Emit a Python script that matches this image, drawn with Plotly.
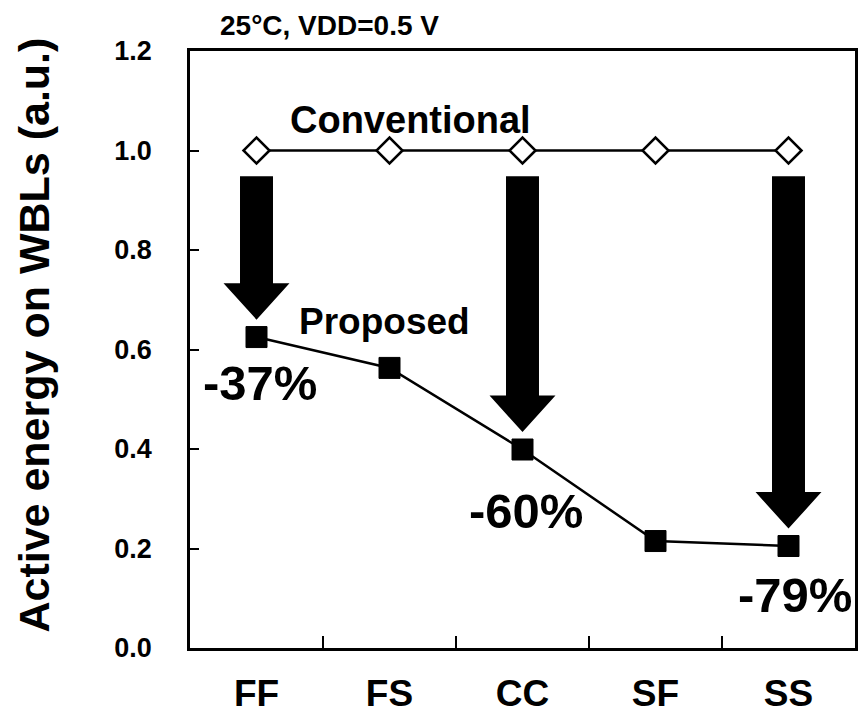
import plotly.graph_objects as go

# ---- data ----
categories = ["FF", "FS", "CC", "SF", "SS"]
conventional = [1.0, 1.0, 1.0, 1.0, 1.0]
proposed = [0.625, 0.563, 0.399, 0.215, 0.205]
arrow_idx = [0, 2, 4]
reduction_labels = ["-37%", "-60%", "-79%"]
y_ticks = [0.0, 0.2, 0.4, 0.6, 0.8, 1.0, 1.2]
condition_text = "25°C, VDD=0.5 V"

FONT = "Arial, Liberation Sans, sans-serif"
x_idx = list(range(len(categories)))

fig = go.Figure()

# ---- thick arrows (conventional -> proposed) ----
shaft_hw = 0.124
head_hw = 0.248
head_h = 0.0734
y_top = 0.948
tip_gap = 0.035
for i in arrow_idx:
    tip = proposed[i] + tip_gap
    hb = tip + head_h
    xs = [i - shaft_hw, i + shaft_hw, i + shaft_hw, i + head_hw, i, i - head_hw, i - shaft_hw, i - shaft_hw]
    ys = [y_top, y_top, hb, hb, tip, hb, hb, y_top]
    fig.add_trace(go.Scatter(x=xs, y=ys, mode="lines", fill="toself",
                             fillcolor="black", line=dict(width=0, color="black"),
                             hoverinfo="skip", showlegend=False))

# ---- series ----
fig.add_trace(go.Scatter(x=x_idx, y=conventional, mode="lines+markers",
                         line=dict(color="black", width=2.5),
                         marker=dict(symbol="diamond", size=20, color="white",
                                     line=dict(color="black", width=2.5)),
                         showlegend=False, name="Conventional"))
fig.add_trace(go.Scatter(x=x_idx, y=proposed, mode="lines+markers",
                         line=dict(color="black", width=2.5),
                         marker=dict(symbol="square", size=21, color="black",
                                     line=dict(color="black", width=1)),
                         showlegend=False, name="Proposed"))

# invisible trace to anchor boundary-tick axis
fig.add_trace(go.Scatter(x=[-0.5, 4.5], y=[0, 0], xaxis="x2", mode="markers",
                         marker=dict(opacity=0), hoverinfo="skip", showlegend=False))

# ---- annotations ----
ann = []
ann_pos = [(0.03, 0.532), (2.03, 0.276), (4.05, 0.106)]
for (ax_, ay_), txt in zip(ann_pos, reduction_labels):
    ann.append(dict(x=ax_, y=ay_, xref="x", yref="y", text=txt, showarrow=False,
                    font=dict(family=FONT, size=49, color="black", weight="bold"),
                    xanchor="center", yanchor="middle"))
ann.append(dict(x=1.16, y=1.062, xref="x", yref="y", text="Conventional", showarrow=False,
                font=dict(family=FONT, size=38, color="black", weight="bold"),
                xanchor="center", yanchor="middle"))
ann.append(dict(x=0.96, y=0.656, xref="x", yref="y", text="Proposed", showarrow=False,
                font=dict(family=FONT, size=37, color="black", weight="bold"),
                xanchor="center", yanchor="middle"))
ann.append(dict(x=0.21, y=1.042, xref="paper", yref="paper", text=condition_text, showarrow=False,
                font=dict(family=FONT, size=28, color="black", weight="bold"),
                xanchor="center", yanchor="middle"))
ann.append(dict(x=-0.2346, y=0.525, xref="paper", yref="paper",
                text="Active energy on WBLs (a.u.)", showarrow=False, textangle=-90,
                font=dict(family=FONT, size=43, color="black", weight="bold"),
                xanchor="center", yanchor="middle"))

fig.update_layout(
    width=859, height=705,
    margin=dict(l=182, r=12, t=43, b=64.5, autoexpand=False),
    paper_bgcolor="white", plot_bgcolor="white",
    annotations=ann,
    xaxis=dict(range=[-0.5, 4.5], tickvals=x_idx, ticktext=categories, ticks="",
               showgrid=False, zeroline=False, showline=True, linecolor="black",
               linewidth=2.5, mirror=True, ticklabelstandoff=11, automargin=False,
               tickfont=dict(family=FONT, size=37, color="black", weight="bold")),
    xaxis2=dict(range=[-0.5, 4.5], overlaying="x", anchor="y", side="bottom",
                tickvals=[0.5, 1.5, 2.5, 3.5], ticks="inside", ticklen=12,
                tickwidth=2, tickcolor="black", showticklabels=False, automargin=False,
                showgrid=False, zeroline=False, showline=False),
    yaxis=dict(range=[0, 1.2], tickvals=y_ticks, tickformat=".1f", ticks="inside",
               ticklen=9, tickwidth=2, tickcolor="black", automargin=False,
               showgrid=False, zeroline=False, showline=True, linecolor="black",
               linewidth=2.5, mirror=True, ticklabelstandoff=30,
               tickfont=dict(family=FONT, size=27, color="black", weight="bold")),
)

fig.write_html("out.html")
